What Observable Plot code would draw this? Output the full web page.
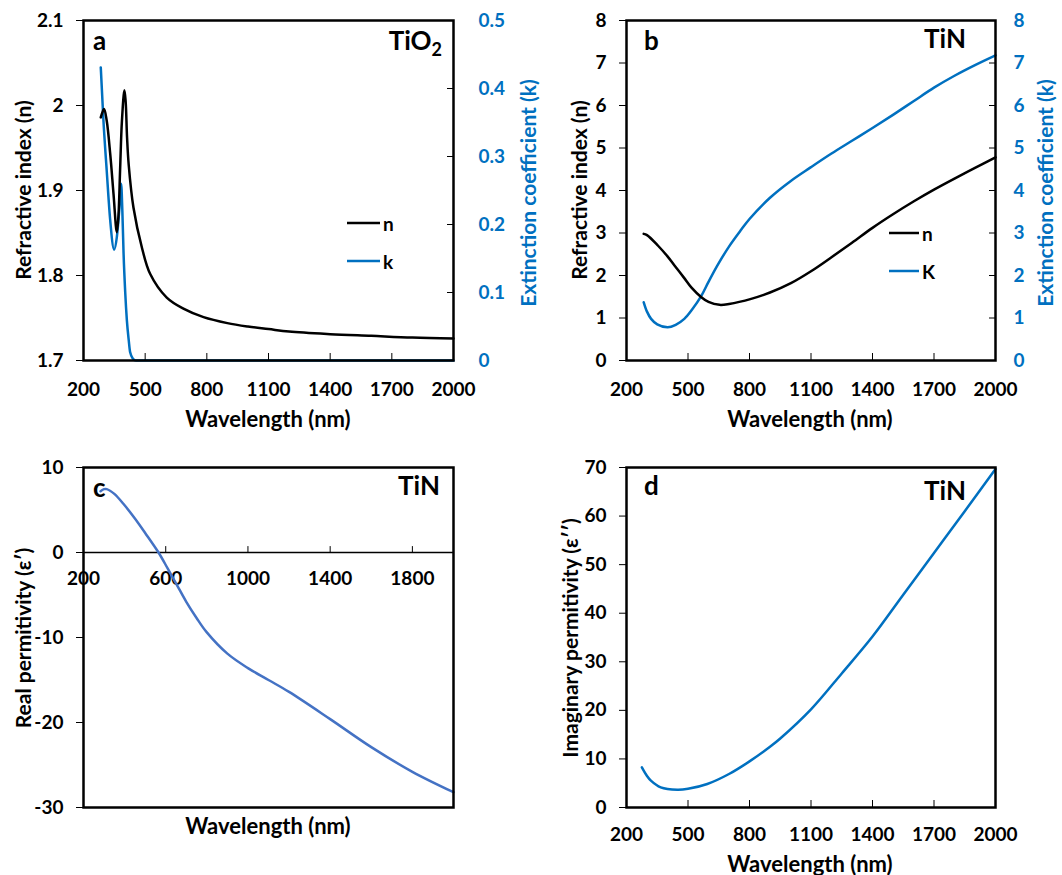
<!DOCTYPE html>
<html><head><meta charset="utf-8">
<script src="https://cdn.jsdelivr.net/npm/d3@7"></script>
<script src="https://cdn.jsdelivr.net/npm/@observablehq/plot@0.6"></script>
<style>
body{margin:0;background:#fff;}
#root{position:relative;width:1062px;height:875px;overflow:hidden;font-family:Lato,sans-serif;}
.panel{position:absolute;}
.panel svg{overflow:visible;}
</style></head><body><div id="root"></div>
<script>
// ---------- data ----------
// Panel a: TiO2
const tio2WlN = [284,300,313,330,346,362,370,378,387,399,405,412,420,443,484,524,605,686,784,900,1000,1100,1200,1400,1600,1800,2000];
const tio2N   = [1.986,1.996,1.982,1.943,1.896,1.851,1.87,1.924,1.982,2.018,2.005,1.962,1.93,1.880,1.833,1.802,1.774,1.761,1.751,1.744,1.740,1.737,1.734,1.731,1.729,1.727,1.726];
const tio2WlK = [284,297,313,330,349,362,375,383,389,395,403,411,420,427,440,455,500,1000,2000];
const tio2K   = [0.431,0.353,0.279,0.206,0.163,0.181,0.225,0.26,0.22,0.157,0.10,0.059,0.03,0.012,0.003,0,0,0,0];
// Panel b: TiN n, K
const tinWlN = [284,300,354,400,435,480,516,565,600,654,700,808,900,1002,1100,1200,1300,1400,1500,1600,1700,1800,1900,2000];
const tinN   = [2.98,2.95,2.70,2.45,2.23,1.95,1.72,1.49,1.38,1.31,1.33,1.45,1.60,1.82,2.10,2.43,2.77,3.12,3.44,3.74,4.02,4.28,4.53,4.78];
const tinWlK = [284,300,320,350,401,440,482,520,565,600,645,700,760,800,900,1000,1100,1200,1300,1400,1500,1600,1700,1800,1900,2000];
const tinK   = [1.37,1.15,0.98,0.85,0.78,0.84,0.98,1.2,1.52,1.85,2.25,2.68,3.08,3.33,3.83,4.22,4.55,4.87,5.17,5.47,5.78,6.1,6.42,6.7,6.95,7.18];
// Panel c: real permittivity
const tinWlE1 = [283,300,313,350,395,450,500,565,610,654,700,750,800,900,1000,1100,1200,1400,1600,1800,2000];
const tinE1   = [7.2,7.45,7.46,6.9,5.7,4.0,2.3,0,-1.9,-3.8,-5.8,-7.7,-9.4,-11.9,-13.6,-15.0,-16.4,-19.6,-22.9,-25.8,-28.2];
// Panel d: imaginary permittivity
const tinWlE2 = [275,300,319,367,448,500,594,700,800,900,950,1100,1250,1400,1550,1700,1850,2000];
const tinE2   = [8.28,6.5,5.53,4.14,3.66,3.85,4.84,6.9,9.5,12.5,14.2,20.2,27.6,35.2,43.8,52.4,61,69.7];
// ticks
const xTicksAB = [200,500,800,1100,1400,1700,2000];
const yTicksA = [1.7,1.8,1.9,2,2.1];
const kTicksA = [0,0.1,0.2,0.3,0.4,0.5];
const yTicksB = [0,1,2,3,4,5,6,7,8];
const xTicksC = [200,600,1000,1400,1800];
const yTicksC = [-30,-20,-10,0,10];
const yTicksD = [0,10,20,30,40,50,60,70];

const BLUE = "#0070C0", BLUE_C = "#4472C4";
const rows = (xs, ys) => xs.map((x, i) => ({wl: x, v: ys[i]}));
const fmt = v => String(+(+v).toFixed(2));
const kToN = k => 1.7 + k * 0.8;
const nToK = n => (n - 1.7) / 0.8;
const TS = 19; // tick font size

const baseStyle = {fontFamily: "Lato, sans-serif", fontWeight: "bold", fontSize: TS + "px", color: "black", background: "none", overflow: "visible"};
const root = document.getElementById("root");
const ax = o => ({fontSize: TS, fontWeight: "bold", label: null, ...o});

function place(svg, left, top) {
  const d = document.createElement("div");
  d.className = "panel"; d.style.left = left + "px"; d.style.top = top + "px";
  d.appendChild(svg); root.appendChild(d);
  return d3.select(svg);
}
function addText(sel, x, y, txt, opt = {}) {
  const t = sel.append("text")
    .attr("x", x).attr("y", y)
    .attr("font-family", "Lato, sans-serif").attr("font-weight", "bold")
    .attr("font-size", opt.size || 21)
    .attr("fill", opt.fill || "black")
    .attr("text-anchor", opt.anchor || "middle")
    .attr("dominant-baseline", opt.baseline || "auto")
    .text(txt);
  if (opt.rotate) t.attr("transform", `rotate(${opt.rotate},${x},${y})`);
  return t;
}
function legendLine(sel, x1, x2, y, color, label) {
  sel.append("line").attr("x1", x1).attr("x2", x2).attr("y1", y).attr("y2", y)
    .attr("stroke", color).attr("stroke-width", 2.5);
  addText(sel, x2 + 3, y, label, {size: 19, anchor: "start", baseline: "central"});
}
const tickUp = {draw(ctx, l) { ctx.moveTo(0, 0); ctx.lineTo(0, -l); }};
const CURVE = "catmull-rom";

// ---------- panel a ----------
{
  const svg = Plot.plot({
    width: 531, height: 440, marginLeft: 83, marginRight: 78, marginTop: 20, marginBottom: 80,
    style: baseStyle,
    x: {domain: [200, 2000]},
    y: {domain: [1.7, 2.1]},
    marks: [
      Plot.line(rows(tio2WlK, tio2K), {x: "wl", y: d => kToN(d.v), stroke: BLUE, strokeWidth: 2.5, curve: "monotone-x"}),
      Plot.line(rows(tio2WlN, tio2N), {x: "wl", y: "v", stroke: "black", strokeWidth: 2.5, curve: CURVE}),
      Plot.axisY(yTicksA, ax({anchor: "left", tickSize: 7, tickPadding: 13, tickFormat: fmt})),
      Plot.axisY(kTicksA.map(kToN), ax({anchor: "right", tickSize: -7, tickPadding: 32, tickFormat: v => fmt(nToK(v)), fill: BLUE, stroke: "black"})),
      Plot.axisX(xTicksAB, ax({anchor: "bottom", tickSize: -7, tickPadding: 29, tickFormat: d => String(d)})),
      Plot.frame({stroke: "black", strokeWidth: 2.5})
    ]
  });
  const s = place(svg, 0, 0);
  addText(s, 22, 190, "Refractive index (n)", {rotate: -90, baseline: "central"});
  addText(s, 527, 193, "Extinction coefficient (k)", {rotate: -90, baseline: "central", fill: BLUE});
  addText(s, 268, 418, "Wavelength (nm)", {size: 22, baseline: "central"});
  addText(s, 93, 50, "a", {size: 26, anchor: "start"});
  const t = addText(s, 442, 50, "", {size: 26, anchor: "end"});
  t.append("tspan").text("TiO");
  t.append("tspan").attr("dy", 6).attr("font-size", 18).text("2");
  legendLine(s, 347, 380, 223, "black", "n");
  legendLine(s, 347, 380, 261, BLUE, "k");
}

// ---------- panel b ----------
{
  const svg = Plot.plot({
    width: 531, height: 440, marginLeft: 95, marginRight: 67, marginTop: 20, marginBottom: 80,
    style: baseStyle,
    x: {domain: [200, 2000]},
    y: {domain: [0, 8]},
    marks: [
      Plot.line(rows(tinWlK, tinK), {x: "wl", y: "v", stroke: BLUE, strokeWidth: 2.5, curve: CURVE}),
      Plot.line(rows(tinWlN, tinN), {x: "wl", y: "v", stroke: "black", strokeWidth: 2.5, curve: CURVE}),
      Plot.axisY(yTicksB, ax({anchor: "left", tickSize: 7, tickPadding: 13, tickFormat: fmt})),
      Plot.axisY(yTicksB, ax({anchor: "right", tickSize: -7, tickPadding: 25, tickFormat: fmt, fill: BLUE, stroke: "black"})),
      Plot.axisX(xTicksAB, ax({anchor: "bottom", tickSize: -7, tickPadding: 29, tickFormat: d => String(d)})),
      Plot.frame({stroke: "black", strokeWidth: 2.5})
    ]
  });
  const s = place(svg, 531, 0);
  addText(s, 47, 190, "Refractive index (n)", {rotate: -90, baseline: "central"});
  addText(s, 513, 193, "Extinction coefficient (k)", {rotate: -90, baseline: "central", fill: BLUE});
  addText(s, 279, 418, "Wavelength (nm)", {size: 22, baseline: "central"});
  addText(s, 113, 50, "b", {size: 26, anchor: "start"});
  addText(s, 435, 48, "TiN", {size: 26, anchor: "end"});
  legendLine(s, 358, 388, 233, "black", "n");
  legendLine(s, 358, 388, 271, BLUE, "K");
}

// ---------- panel c ----------
{
  const svg = Plot.plot({
    width: 531, height: 435, marginLeft: 83, marginRight: 78, marginTop: 27, marginBottom: 68,
    style: baseStyle,
    x: {domain: [200, 2000], axis: null},
    y: {domain: [-30, 10]},
    marks: [
      Plot.ruleY([0], {stroke: "black", strokeWidth: 1.5}),
      Plot.vector(xTicksC.slice(1), {x: d => d, y: 0, length: 6, anchor: "start", shape: tickUp, stroke: "black", strokeWidth: 1}),
      Plot.text(xTicksC, {x: d => d, y: 0, dy: 26, text: d => String(d), fontSize: TS, fontWeight: "bold", fill: "black"}),
      Plot.line(rows(tinWlE1, tinE1), {x: "wl", y: "v", stroke: BLUE_C, strokeWidth: 2.5, curve: CURVE}),
      Plot.axisY(yTicksC, ax({anchor: "left", tickSize: 7, tickPadding: 13, tickFormat: fmt})),
      Plot.frame({stroke: "black", strokeWidth: 2.5})
    ]
  });
  const s = place(svg, 0, 440);
  addText(s, 22, 198, "Real permitivity (ε′)", {rotate: -90, baseline: "central"});
  addText(s, 268, 385, "Wavelength (nm)", {size: 22, baseline: "central"});
  addText(s, 93, 57, "c", {size: 26, anchor: "start"});
  addText(s, 440, 55, "TiN", {size: 26, anchor: "end"});
}

// ---------- panel d ----------
{
  const svg = Plot.plot({
    width: 531, height: 435, marginLeft: 95, marginRight: 67, marginTop: 27, marginBottom: 68,
    style: baseStyle,
    x: {domain: [200, 2000]},
    y: {domain: [0, 70]},
    marks: [
      Plot.line(rows(tinWlE2, tinE2), {x: "wl", y: "v", stroke: BLUE, strokeWidth: 2.5, curve: CURVE}),
      Plot.axisY(yTicksD, ax({anchor: "left", tickSize: 7, tickPadding: 13, tickFormat: fmt})),
      Plot.axisX(xTicksAB, ax({anchor: "bottom", tickSize: -7, tickPadding: 27, tickFormat: d => String(d)})),
      Plot.frame({stroke: "black", strokeWidth: 2.5})
    ]
  });
  const s = place(svg, 531, 440);
  addText(s, 38, 198, "Imaginary permitivity (ε′′)", {rotate: -90, baseline: "central"});
  addText(s, 279, 423, "Wavelength (nm)", {size: 22, baseline: "central"});
  addText(s, 113, 55, "d", {size: 26, anchor: "start"});
  addText(s, 435, 60, "TiN", {size: 26, anchor: "end"});
}
</script></body></html>
